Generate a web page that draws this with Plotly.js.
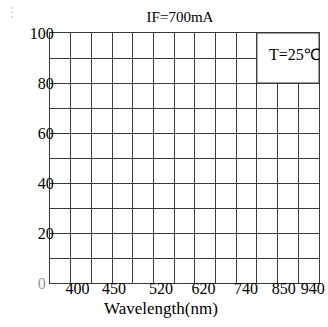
<!DOCTYPE html>
<html><head><meta charset="utf-8">
<script src="https://cdn.plot.ly/plotly-3.0.1.min.js"></script>
<style>html,body{margin:0;padding:0;background:#fff}</style>
</head><body><div id="chart" style="width:328px;height:327px"></div>
<script>
// tick labels (wavelength, nm) and their column positions along the grid
const xTickLabels = ['400','450','520','620','740','850','940'];
const xTickPos = [1.33, 3.09, 5.36, 7.42, 9.47, 11.3, 12.7];
const yTickVals = [0, 20, 40, 60, 80, 100];
const yTickText = ['<span style="color:#999">0</span>\u00a0\u00a0','20','40','60','80','100'];
const titleText = 'IF=700mA';
const noteText = 'T=25℃';
const xTitle = 'Wavelength(nm)';

const gridColor = '#3a3a3a';
const serif = 'Liberation Serif, Times New Roman, serif';

const data = [{x: [0, 13], y: [0, 100], mode: 'markers', marker: {opacity: 0}, hoverinfo: 'skip', showlegend: false}];

const layout = {
  width: 328, height: 327,
  margin: {l: 50, r: 9, t: 33, b: 44},
  paper_bgcolor: '#fff', plot_bgcolor: '#fff',
  showlegend: false,
  font: {family: serif, color: '#000', size: 16},
  title: {text: titleText, font: {family: serif, size: 15, color: '#000'},
          xref: 'container', x: 180/328, xanchor: 'center', yref: 'container', y: 1 - 17/327, yanchor: 'middle'},
  xaxis: {range: [0, 13], tickmode: 'array', tickvals: xTickPos, ticktext: xTickLabels,
          showgrid: false, zeroline: false, ticks: '', ticklabelstandoff: -9,
          minor: {tickmode: 'linear', tick0: 0, dtick: 1, showgrid: true, gridcolor: gridColor, gridwidth: 1, ticks: ''},
          showline: true, mirror: true, linecolor: gridColor, linewidth: 1,
          tickfont: {family: serif, size: 16, color: '#000'}, fixedrange: true},
  yaxis: {range: [0, 100], tickmode: 'array', tickvals: yTickVals, ticktext: yTickText,
          showgrid: true, gridcolor: gridColor, gridwidth: 1, zeroline: false, ticks: '', ticklabelstandoff: -8,
          minor: {tickmode: 'linear', tick0: 0, dtick: 10, showgrid: true, gridcolor: gridColor, gridwidth: 1, ticks: ''},
          showline: true, mirror: true, linecolor: gridColor, linewidth: 1,
          tickfont: {family: serif, size: 16, color: '#000'}, fixedrange: true},
  shapes: [{type: 'rect', xref: 'x', yref: 'y', x0: 10, x1: 13, y0: 80, y1: 100,
            fillcolor: '#fff', line: {color: gridColor, width: 1}, layer: 'above'}],
  annotations: [
    {text: noteText, xref: 'paper', yref: 'paper', x: (322-50)/269, y: (283-55)/250, xanchor: 'right', yanchor: 'middle', showarrow: false,
     font: {family: serif, size: 16, color: '#000'}},
    {text: xTitle, xref: 'paper', yref: 'paper', x: (161-50)/269, y: -25/250, xanchor: 'center', yanchor: 'middle', showarrow: false,
     font: {family: serif, size: 17, color: '#000'}},
    {text: '⋮', xref: 'paper', yref: 'paper', x: (12-50)/269, y: (283-12)/250, xanchor: 'center', yanchor: 'middle', showarrow: false,
     font: {family: serif, size: 12, color: '#ccc'}}
  ]
};
Plotly.newPlot('chart', data, layout, {displayModeBar: false, staticPlot: true});
</script></body></html>
